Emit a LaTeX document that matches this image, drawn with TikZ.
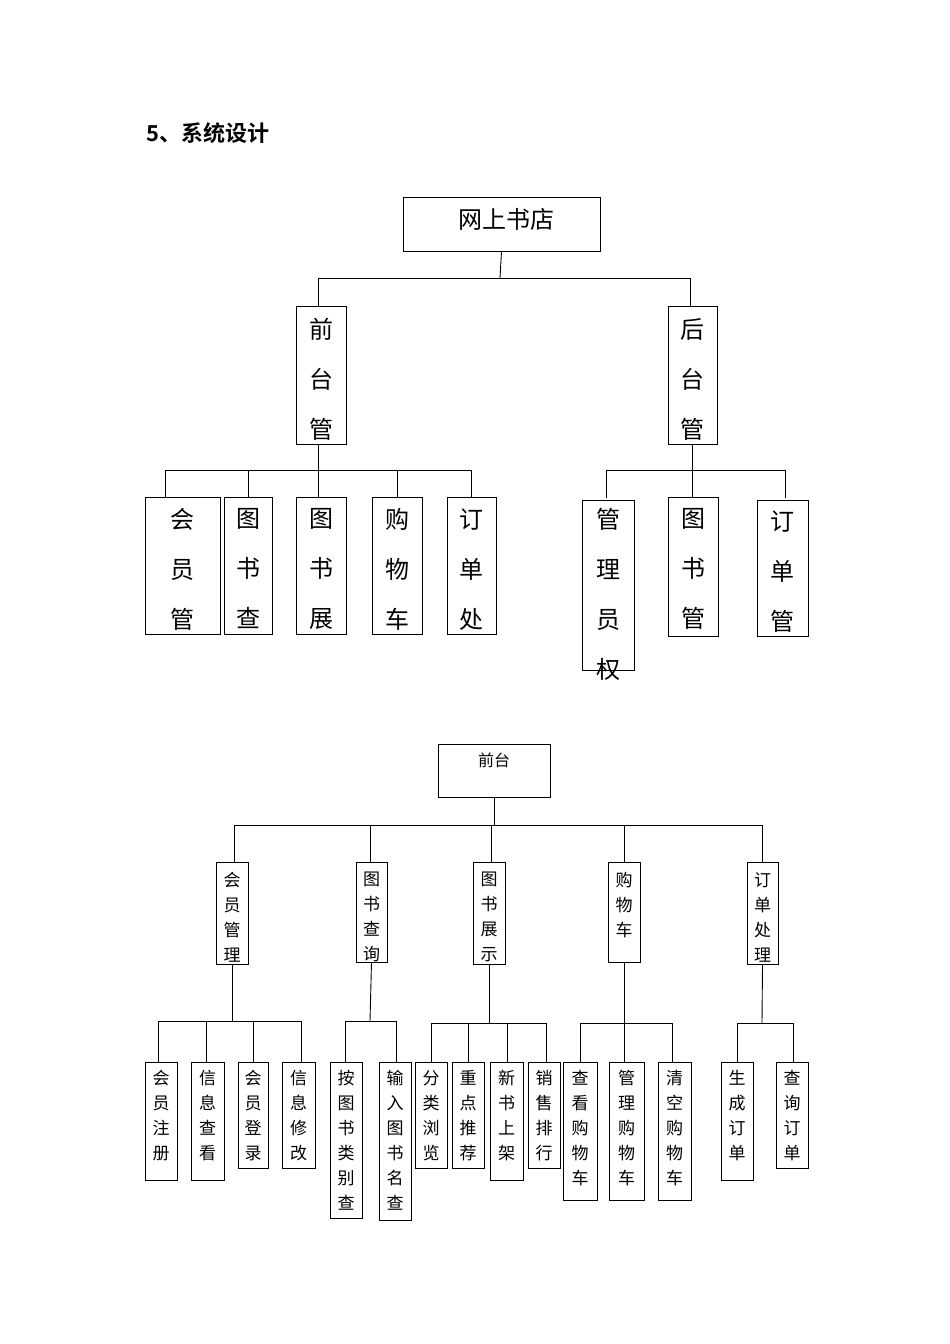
\documentclass[tikz,border=0pt]{standalone}
\usepackage{fontspec}
\setmainfont{Noto Sans CJK SC}
\newfontfamily\titlefont{Noto Sans CJK SC Bold}
\newcommand\bx[8]{%
\node[draw,line width=0.9pt,inner sep=0,minimum width={#4-#2},minimum height={#5-#3}] (#1) at ({(#2+#4)/2},{(#3+#5)/2}) {};
\node[anchor=north,align=center,inner sep=0,font=#6] (#1t) at ({(#2+#4)/2},#8) {#7};}
\begin{document}
\begin{tikzpicture}[x=1pt,y=-1pt,line width=0.9pt]
\fill[white] (0,0) rectangle (950,1344);
\useasboundingbox (0,0) rectangle (950,1344);
\node[anchor=west,font=\titlefont\fontsize{22}{24}\selectfont] (title) at (143,133) {5、系统设计};
% top chart
\bx{root}{403}{197}{600}{251}{\fontsize{24}{30}\selectfont}{\ \ 网上书店}{208}
\bx{qt}{296}{306}{346}{444}{\fontsize{24}{50}\selectfont}{前\\台\\管}{318}
\bx{ht}{668}{306}{717}{444}{\fontsize{24}{50}\selectfont}{后\\台\\管}{318}
\draw (root.south) -- (500,278) coordinate (j0);
\draw (318,278) -- (690,278);
\draw (318,278) -- (318,306); \draw (690,278) -- (690,306);
\bx{a1}{145}{497}{220}{634}{\fontsize{24}{50}\selectfont}{会\\员\\管}{508}
\bx{a2}{224}{497}{272}{634}{\fontsize{24}{50}\selectfont}{图\\书\\查}{508}
\bx{a3}{296}{497}{346}{634}{\fontsize{24}{50}\selectfont}{图\\书\\展}{508}
\bx{a4}{372}{497}{422}{634}{\fontsize{24}{50}\selectfont}{购\\物\\车}{508}
\bx{a5}{447}{497}{496}{634}{\fontsize{24}{50}\selectfont}{订\\单\\处}{508}
\draw (318,444) -- (318,470);
\draw (165,470) -- (471,470);
\foreach \x in {165,248,318,397,471} \draw (\x,470) -- (\x,497);
\bx{b1}{582}{500}{634}{670}{\fontsize{24}{50}\selectfont}{管\\理\\员\\权}{508}
\bx{b2}{668}{497}{718}{636}{\fontsize{24}{50}\selectfont}{图\\书\\管}{508}
\bx{b3}{757}{500}{808}{636}{\fontsize{24}{50}\selectfont}{订\\单\\管}{510}
\draw (692,444) -- (692,470);
\draw (606,470) -- (785,470);
\foreach \x in {606,692,785} \draw (\x,470) -- (\x,498);
% bottom chart
\bx{q}{438}{744}{550}{797}{\fontsize{16}{20}\selectfont}{前台}{753}
\draw (q.south) -- (494,825);
\draw (234,825) -- (762,825);
\foreach \x in {234,370,491,624,762} \draw (\x,825) -- (\x,862);
\def\fs{\fontsize{17}{25}\selectfont}
\bx{c1}{216}{862}{248}{964}{\fs}{会\\员\\管\\理}{872}
\bx{c2}{356}{862}{387}{962}{\fs}{图\\书\\查\\询}{872}
\bx{c3}{473}{862}{505}{964}{\fs}{图\\书\\展\\示}{872}
\bx{c4}{608}{862}{640}{962}{\fs}{购\\物\\车}{872}
\bx{c5}{747}{862}{778}{964}{\fs}{订\\单\\处\\理}{872}
% c1 children
\draw (c1.south) -- (232,1021); \draw (158,1021) -- (301,1021);
\foreach \x in {158,206,253,301} \draw (\x,1021) -- (\x,1062);
\bx{d1}{145}{1062}{177}{1180}{\fs}{会\\员\\注\\册}{1070}
\bx{d2}{191}{1062}{224}{1180}{\fs}{信\\息\\查\\看}{1070}
\bx{d3}{238}{1062}{268}{1168}{\fs}{会\\员\\登\\录}{1070}
\bx{d4}{282}{1062}{315}{1168}{\fs}{信\\息\\修\\改}{1070}
% c2 children
\draw (c2.south) -- (370,1021); \draw (345,1021) -- (396,1021);
\foreach \x in {345,396} \draw (\x,1021) -- (\x,1062);
\bx{e1}{330}{1062}{362}{1218}{\fs}{按\\图\\书\\类\\别\\查}{1070}
\bx{e2}{379}{1062}{411}{1220}{\fs}{输\\入\\图\\书\\名\\查}{1070}
% c3 children
\draw (c3.south) -- (489,1023); \draw (431,1023) -- (546,1023);
\foreach \x in {431,468,507,546} \draw (\x,1023) -- (\x,1062);
\bx{f1}{415}{1062}{447}{1168}{\fs}{分\\类\\浏\\览}{1070}
\bx{f2}{452}{1062}{484}{1168}{\fs}{重\\点\\推\\荐}{1070}
\bx{f3}{490}{1062}{523}{1180}{\fs}{新\\书\\上\\架}{1070}
\bx{f4}{528}{1062}{560}{1168}{\fs}{销\\售\\排\\行}{1070}
% c4 children
\draw (c4.south) -- (624,1062); \draw (580,1023) -- (672,1023);
\foreach \x in {580,672} \draw (\x,1023) -- (\x,1062);
\bx{g1}{563}{1062}{597}{1200}{\fs}{查\\看\\购\\物\\车}{1070}
\bx{g2}{609}{1062}{644}{1200}{\fs}{管\\理\\购\\物\\车}{1070}
\bx{g3}{658}{1062}{691}{1200}{\fs}{清\\空\\购\\物\\车}{1070}
% c5 children
\draw (c5.south) -- (762,1023); \draw (737,1023) -- (793,1023);
\foreach \x in {737,793} \draw (\x,1023) -- (\x,1062);
\bx{h1}{721}{1062}{753}{1180}{\fs}{生\\成\\订\\单}{1070}
\bx{h2}{776}{1062}{808}{1168}{\fs}{查\\询\\订\\单}{1070}
\end{tikzpicture}
\end{document}
